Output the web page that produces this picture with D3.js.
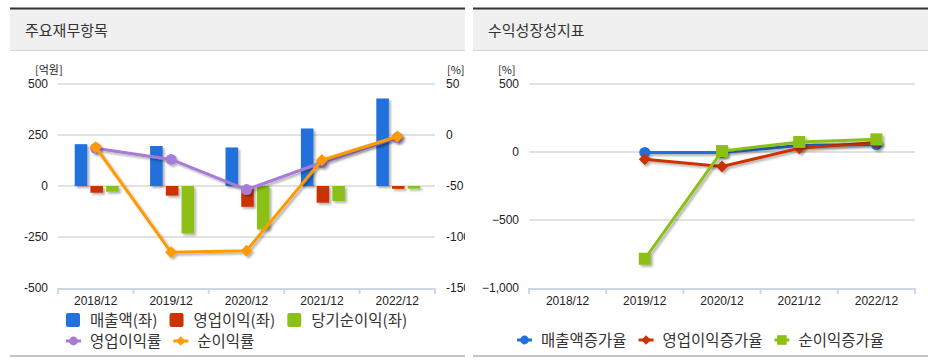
<!DOCTYPE html>
<html>
<head>
<meta charset="utf-8">
<script src="https://cdn.jsdelivr.net/npm/d3@7"></script>
<style>
  body { margin: 0; background: #fff; }
  svg text { font-family: "Noto Sans CJK KR", "Noto Sans", sans-serif; }
  svg text.num { font-family: "Liberation Sans", "DejaVu Sans", sans-serif; }
</style>
</head>
<body>
<svg id="chart" width="941" height="360"></svg>
<script>
// data
var years = ['2018/12', '2019/12', '2020/12', '2021/12', '2022/12'];
var sales = [205, 196, 189, 282, 429];          // 매출액(좌)
var opProfit = [-33, -47, -102, -82, -14];      // 영업이익(좌)
var netProfit = [-28, -233, -213, -74, -13];    // 당기순이익(좌)
var opMargin = [-13, -24, -53.5, -27, -2.5];    // 영업이익률
var netMargin = [-12, -115, -113.5, -24.5, -1.5]; // 순이익률
var salesGrowth = [null, -3, -4, 48, 55];       // 매출액증가율
var opGrowth = [null, -54, -107, 27, 69];       // 영업이익증가율
var netGrowth = [null, -785, 7, 74, 93];        // 순이익증가율
var leftTicks = [-500, -250, 0, 250, 500];
var rightTicks = [-150, -100, -50, 0, 50];
var growthTicks = [-1000, -500, 0, 500];

var svg = d3.select('#chart');
var defs = svg.append('defs');
var f = defs.append('filter').attr('id', 'shadow').attr('x', '-20%').attr('y', '-20%').attr('width', '160%').attr('height', '160%');
f.append('feDropShadow').attr('dx', 2).attr('dy', 2).attr('stdDeviation', 1)
  .attr('flood-color', '#000').attr('flood-opacity', 0.3);

function panel(x0, x1, title) {
  var g = svg.append('g');
  g.append('rect').attr('x', x0).attr('y', 9).attr('width', x1 - x0).attr('height', 41).attr('fill', '#f0f0f0');
  g.append('rect').attr('x', x0).attr('y', 7.5).attr('width', x1 - x0).attr('height', 2).attr('fill', '#333');
  g.append('rect').attr('x', x0).attr('y', 50).attr('width', x1 - x0).attr('height', 1).attr('fill', '#d6d6d6');
  g.append('rect').attr('x', x0).attr('y', 355).attr('width', x1 - x0).attr('height', 2).attr('fill', '#c4c4c4');
  g.append('text').attr('x', x0 + 15).attr('y', 36).attr('font-size', 15).attr('fill', '#333').text(title);
  return g;
}

function xAxis(g, x, yBottom) {
  var r = x.range();
  g.append('line').attr('x1', r[0]).attr('x2', r[1]).attr('y1', yBottom + 1).attr('y2', yBottom + 1)
    .attr('stroke', '#cdd6e4').attr('stroke-width', 2);
  var edges = years.map(function (d) { return x(d); }).concat([r[1]]);
  g.selectAll('.xt').data(edges).enter().append('line')
    .attr('x1', function (d) { return d; }).attr('x2', function (d) { return d; })
    .attr('y1', yBottom).attr('y2', yBottom + 6).attr('stroke', '#cdd6e4').attr('stroke-width', 2);
  g.selectAll('.xl').data(years).enter().append('text').attr('class', 'num')
    .attr('x', function (d) { return x(d) + x.bandwidth() / 2; }).attr('y', yBottom + 17)
    .attr('text-anchor', 'middle').attr('font-size', 12).attr('fill', '#222').text(function (d) { return d; });
}

function grid(g, y, ticks, x0, x1) {
  g.selectAll('.gl').data(ticks.slice(1)).enter().append('line')
    .attr('x1', x0).attr('x2', x1).attr('y1', function (d) { return y(d); }).attr('y2', function (d) { return y(d); })
    .attr('stroke', '#e2e2e2').attr('stroke-width', 2);
}

function legendRow(g, items, x, y) {
  items.forEach(function (it) {
    if (it.kind === 'rect') {
      g.append('rect').attr('x', x).attr('y', y - 13).attr('width', 14).attr('height', 14).attr('rx', 2).attr('fill', it.color);
    } else {
      g.append('line').attr('x1', x).attr('x2', x + 15).attr('y1', y - 6).attr('y2', y - 6).attr('stroke', it.color).attr('stroke-width', 3);
      marker(g, it.kind, x + 7.5, y - 6, it.color, 0.8);
    }
    var t = g.append('text').attr('x', x + 24).attr('y', y).attr('font-size', 15.5).attr('fill', '#333').text(it.name);
    x += 24 + t.node().getComputedTextLength() + 12;
  });
  return x;
}

function marker(g, kind, cx, cy, color, s) {
  s = s || 1;
  if (kind === 'circle') {
    g.append('circle').attr('cx', cx).attr('cy', cy).attr('r', 5.5 * s).attr('fill', color);
  } else if (kind === 'diamond') {
    var r = 6 * s;
    g.append('path').attr('d', 'M' + cx + ',' + (cy - r) + 'L' + (cx + r) + ',' + cy + 'L' + cx + ',' + (cy + r) + 'L' + (cx - r) + ',' + cy + 'Z').attr('fill', color);
  } else if (kind === 'square') {
    var h = 6 * s;
    g.append('rect').attr('x', cx - h).attr('y', cy - h).attr('width', 2 * h).attr('height', 2 * h).attr('fill', color);
  }
}

function series(g, x, y, vals, color, kind) {
  var pts = years.map(function (d, i) { return { x: x(d) + x.bandwidth() / 2, v: vals[i] }; })
    .filter(function (p) { return p.v !== null; });
  var line = d3.line().x(function (p) { return p.x; }).y(function (p) { return y(p.v); });
  var sg = g.append('g').attr('filter', 'url(#shadow)');
  sg.append('path').datum(pts).attr('d', line).attr('fill', 'none').attr('stroke', color).attr('stroke-width', 3);
  pts.forEach(function (p) { marker(sg, kind, p.x, y(p.v), color); });
}

// ---- left panel: 주요재무항목
var L = panel(10, 465, '주요재무항목');
defs.append('clipPath').attr('id', 'clipL').append('rect').attr('x', 10).attr('y', 0).attr('width', 455).attr('height', 360);
L.attr('clip-path', 'url(#clipL)');
var xL = d3.scaleBand().domain(years).range([58, 435]);
var yL = d3.scaleLinear().domain([-500, 500]).range([288, 84]);
var yR = d3.scaleLinear().domain([-150, 50]).range([288, 84]);
grid(L, yL, leftTicks, 58, 435);
xAxis(L, xL, 288);
L.selectAll('.yl').data(leftTicks).enter().append('text').attr('class', 'num')
  .attr('x', 48).attr('y', function (d) { return yL(d) + 4; }).attr('text-anchor', 'end')
  .attr('font-size', 12).attr('fill', '#222').text(function (d) { return d; });
L.selectAll('.yr').data(rightTicks).enter().append('text').attr('class', 'num')
  .attr('x', 446).attr('y', function (d) { return yR(d) + 4; })
  .attr('font-size', 12).attr('fill', '#222').text(function (d) { return d; });
L.append('text').attr('x', 35).attr('y', 74).attr('font-size', 11).attr('fill', '#222').text('[억원]');
L.append('text').attr('x', 447).attr('y', 74).attr('font-size', 11).attr('fill', '#222').text('[%]');

var barSeries = [
  { name: '매출액(좌)', vals: sales, color: '#2470dc' },
  { name: '영업이익(좌)', vals: opProfit, color: '#cc3300' },
  { name: '당기순이익(좌)', vals: netProfit, color: '#8cc014' }
];
var inner = d3.scaleBand().domain(barSeries.map(function (s) { return s.name; })).range([-21, 23]).paddingInner(0.2);
var bars = L.append('g').attr('filter', 'url(#shadow)');
barSeries.forEach(function (s) {
  bars.selectAll(null).data(s.vals).enter().append('rect')
    .attr('x', function (d, i) { return xL(years[i]) + xL.bandwidth() / 2 + inner(s.name); })
    .attr('width', inner.bandwidth())
    .attr('y', function (d) { return yL(Math.max(0, d)); })
    .attr('height', function (d) { return Math.abs(yL(d) - yL(0)); })
    .attr('fill', s.color);
});
series(L, xL, yR, opMargin, '#a77cd9', 'circle');
series(L, xL, yR, netMargin, '#ff9a00', 'diamond');

legendRow(L, barSeries.map(function (s) { return { name: s.name, color: s.color, kind: 'rect' }; }), 66, 326);
legendRow(L, [{ name: '영업이익률', color: '#a77cd9', kind: 'circle' }, { name: '순이익률', color: '#ff9a00', kind: 'diamond' }], 66, 347);

// ---- right panel: 수익성장성지표
var R = panel(473, 928, '수익성장성지표');
var xG = d3.scaleBand().domain(years).range([529, 915]);
var yG = d3.scaleLinear().domain([-1000, 500]).range([288, 84]);
grid(R, yG, growthTicks, 529, 915);
xAxis(R, xG, 288);
R.selectAll('.yl').data(growthTicks).enter().append('text').attr('class', 'num')
  .attr('x', 519).attr('y', function (d) { return yG(d) + 4; }).attr('text-anchor', 'end')
  .attr('font-size', 12).attr('fill', '#222').text(function (d) { return d3.format(',')(d); });
R.append('text').attr('x', 498).attr('y', 74).attr('font-size', 11).attr('fill', '#222').text('[%]');
series(R, xG, yG, salesGrowth, '#2470dc', 'circle');
series(R, xG, yG, opGrowth, '#cc3300', 'diamond');
series(R, xG, yG, netGrowth, '#8cc014', 'square');

var lg = R.append('g');
var endX = legendRow(lg, [
  { name: '매출액증가율', color: '#2470dc', kind: 'circle' },
  { name: '영업이익증가율', color: '#cc3300', kind: 'diamond' },
  { name: '순이익증가율', color: '#8cc014', kind: 'square' }
], 0, 346);
lg.attr('transform', 'translate(' + (700.5 - (endX - 12) / 2) + ',0)');
</script>
</body>
</html>
